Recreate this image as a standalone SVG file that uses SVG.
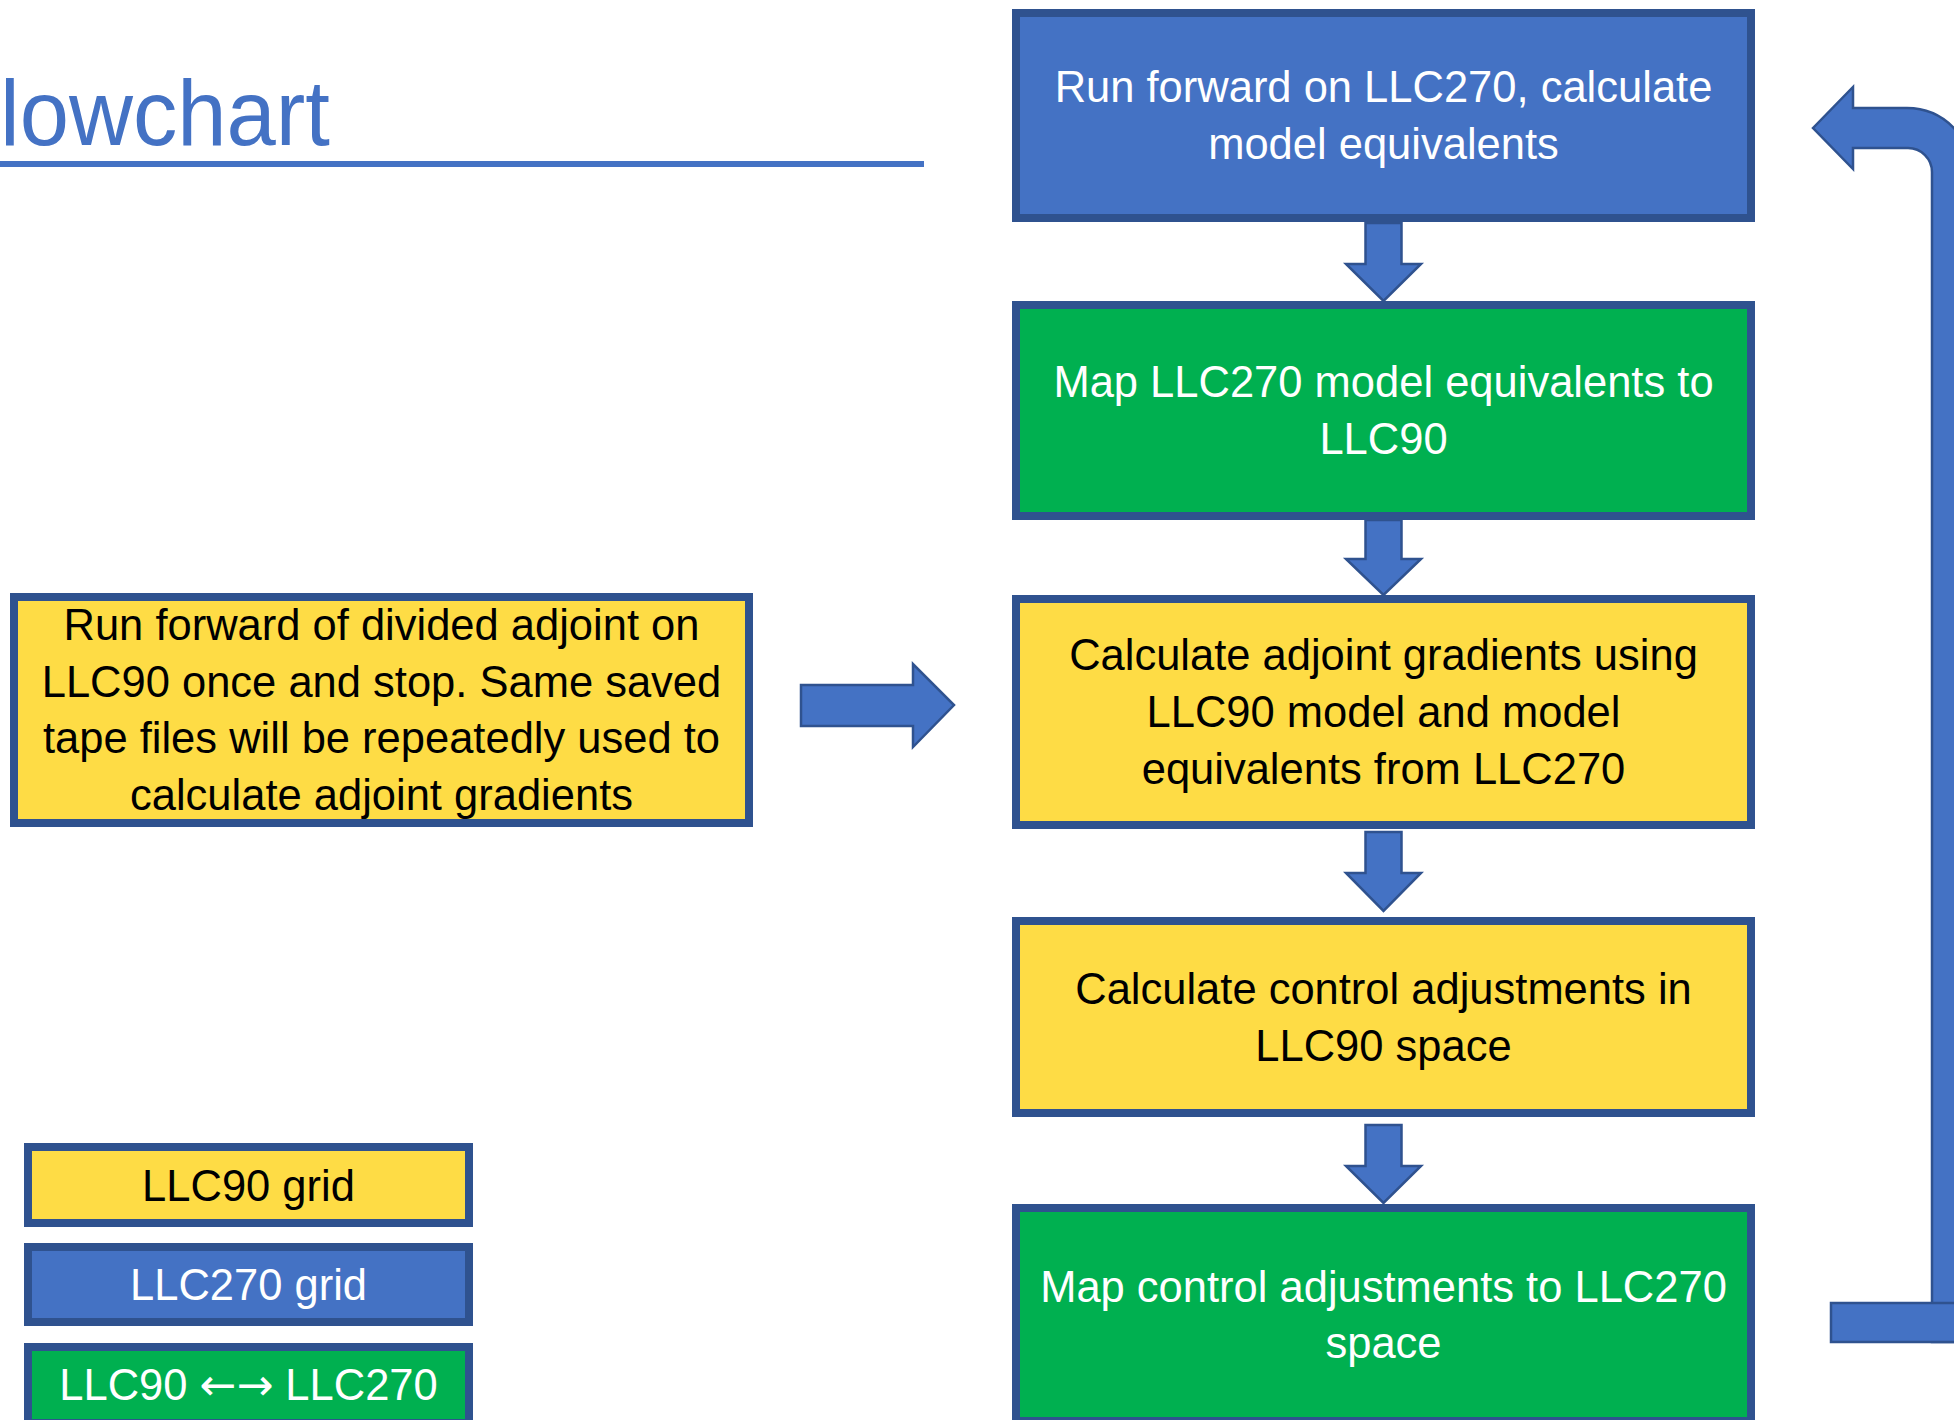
<svg xmlns="http://www.w3.org/2000/svg" width="1954" height="1420" viewBox="0 0 1954 1420">
<style>
.box{stroke:#2F528F;stroke-width:8}
.blue{fill:#4472C4}
.green{fill:#00B050}
.yellow{fill:#FEDC45}
.arr{fill:#4472C4;stroke:#2F528F;stroke-width:2.5;stroke-linejoin:miter}
text{font-family:"Liberation Sans",Arial,sans-serif;font-size:43.5px;text-anchor:middle}
.w{fill:#FFFFFF}
.k{fill:#000000}
.title{font-size:92px;fill:#4472C4;text-anchor:start}
.sym{font-family:"DejaVu Sans",sans-serif;font-size:44px}
</style>
<rect width="1954" height="1420" fill="#FFFFFF"/>
<g id="title">
<text class="title" x="0" y="145" textLength="330" lengthAdjust="spacingAndGlyphs">lowchart</text>
<rect x="0" y="161" width="924" height="6" fill="#4472C4"/>
</g>
<g id="connectors">
<path class="arr" d="M1365.5,223 H1401.5 V264 H1421 L1383.5,301 L1346,264 H1365.5 Z"/>
<path class="arr" d="M1365.5,520 H1401.5 V559 H1421 L1383.5,595 L1346,559 H1365.5 Z"/>
<path class="arr" d="M1365.5,832 H1401.5 V873 H1421 L1383.5,911 L1346,873 H1365.5 Z"/>
<path class="arr" d="M1365.5,1125 H1401.5 V1166 H1421 L1383.5,1203 L1346,1166 H1365.5 Z"/>
<path class="arr" d="M801,685 H913 V664 L954,705 L913,747 V726 H801 Z"/>
<path class="arr" d="M1813,128 L1853,87 V108 H1907 A65,65 0 0 1 1972,173 V1342 H1932 V172 A24,24 0 0 0 1908,148 H1853 V169 Z"/>
<rect class="arr" x="1831" y="1303" width="150" height="39"/>
</g>
<g id="node-run-forward-llc270">
<rect class="box blue" x="1016" y="13" width="735" height="205"/>
<text class="w" x="1383.5" y="102">Run forward on LLC270, calculate</text>
<text class="w" x="1383.5" y="159">model equivalents</text>
</g>
<g id="node-map-to-llc90">
<rect class="box green" x="1016" y="305" width="735" height="211"/>
<text class="w" x="1383.5" y="397">Map LLC270 model equivalents to</text>
<text class="w" x="1383.5" y="454">LLC90</text>
</g>
<g id="node-calc-adjoint">
<rect class="box yellow" x="1016" y="599" width="735" height="226"/>
<text class="k" x="1383.5" y="670">Calculate adjoint gradients using</text>
<text class="k" x="1383.5" y="727">LLC90 model and model</text>
<text class="k" x="1383.5" y="784">equivalents from LLC270</text>
</g>
<g id="node-calc-control">
<rect class="box yellow" x="1016" y="921" width="735" height="192"/>
<text class="k" x="1383.5" y="1004">Calculate control adjustments in</text>
<text class="k" x="1383.5" y="1061">LLC90 space</text>
</g>
<g id="node-map-to-llc270">
<rect class="box green" x="1016" y="1208" width="735" height="213"/>
<text class="w" x="1383.5" y="1302">Map control adjustments to LLC270</text>
<text class="w" x="1383.5" y="1358">space</text>
</g>
<g id="node-divided-adjoint">
<rect class="box yellow" x="14" y="597" width="735" height="226"/>
<text class="k" x="381.5" y="640">Run forward of divided adjoint on</text>
<text class="k" x="381.5" y="697">LLC90 once and stop. Same saved</text>
<text class="k" x="381.5" y="753">tape files will be repeatedly used to</text>
<text class="k" x="381.5" y="810">calculate adjoint gradients</text>
</g>
<g id="legend-llc90">
<rect class="box yellow" x="28" y="1147" width="441" height="76"/>
<text class="k" x="248.5" y="1201">LLC90 grid</text>
</g>
<g id="legend-llc270">
<rect class="box blue" x="28" y="1247" width="441" height="75"/>
<text class="w" x="248.5" y="1300">LLC270 grid</text>
</g>
<g id="legend-mapping">
<rect class="box green" x="28" y="1347" width="441" height="76"/>
<text class="w" x="248.5" y="1400">LLC90 <tspan class="sym">←→</tspan> LLC270</text>
</g>
</svg>
